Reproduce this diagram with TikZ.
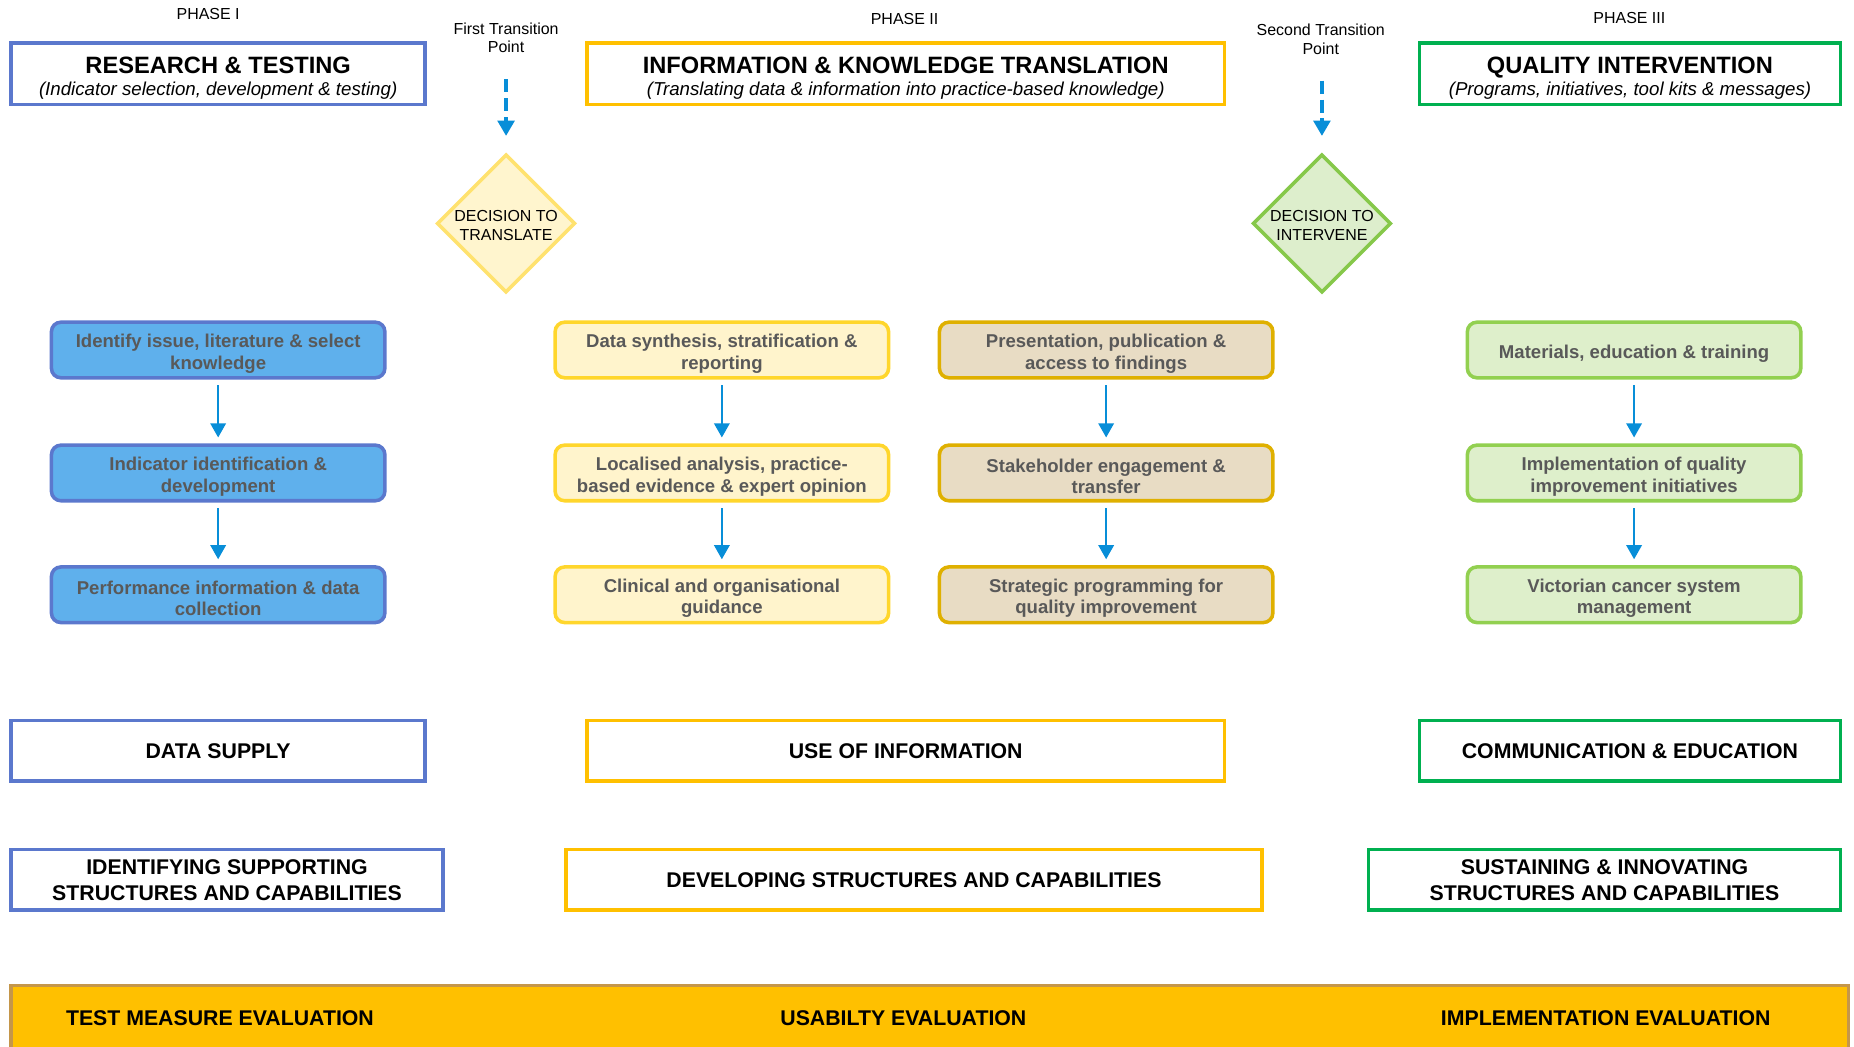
\documentclass[tikz,border=0pt]{standalone}
\usepackage{fontspec}
\setmainfont{Liberation Sans}
\usetikzlibrary{shapes.geometric,arrows.meta}

\newcommand\fsz[2]{\fontsize{#1}{#2}\selectfont}
% invisible strut that lowers a text block inside its box
\newcommand\lowerstrut[1]{\rule{0pt}{#1}}

\definecolor{bluebd}{RGB}{91,120,205}
\definecolor{bluefill}{RGB}{95,176,236}
\definecolor{gold}{RGB}{255,192,0}
\definecolor{qgreen}{RGB}{0,176,80}
\definecolor{ylbd}{RGB}{255,214,44}
\definecolor{ylfill}{RGB}{255,244,204}
\definecolor{tanbd}{RGB}{223,176,0}
\definecolor{tanfill}{RGB}{232,220,196}
\definecolor{grbd}{RGB}{146,208,80}
\definecolor{grfill}{RGB}{222,239,203}
\definecolor{arrowblue}{RGB}{8,142,216}
\definecolor{procgray}{RGB}{89,89,89}
\definecolor{barbd}{RGB}{196,150,74}
\definecolor{dyellowbd}{RGB}{255,226,110}
\definecolor{dyellowfill}{RGB}{255,245,206}
\definecolor{dgreenbd}{RGB}{134,200,74}
\definecolor{dgreenfill}{RGB}{221,238,204}

\tikzset{
  phaselabel/.style={font=\fsz{13.5}{16}, align=center, inner sep=0pt},
  headbox/.style={draw=#1, line width=3pt, minimum height=52pt, align=center,
    inner sep=0pt, font=\fsz{15.8}{21}\itshape},
  proc/.style={rounded corners=8pt, line width=3pt, minimum width=282pt,
    minimum height=47pt, align=center, text=procgray,
    font=\fsz{15.7}{18.2}\bfseries, inner sep=0pt},
  capbox/.style={draw=#1, line width=3pt, minimum height=51pt, align=center,
    font=\fsz{18}{22}\bfseries, inner sep=0pt},
  evaltext/.style={font=\fsz{18}{22}\bfseries, inner sep=0pt},
  flow/.style={arrowblue, line width=2pt, -{Triangle[length=12pt,width=13pt]},
    shorten <=5pt, shorten >=5pt},
  dashflow/.style={arrowblue, line width=4pt, dash pattern=on 11pt off 5pt,
    -{Triangle[length=13pt,width=14pt]}, shorten <=22pt, shorten >=14pt},
  decision/.style={diamond, aspect=1, line width=3pt, minimum width=117pt,
    minimum height=117pt, inner sep=0pt},
  decisiontext/.style={phaselabel, yshift=-2pt},
}

\begin{document}
\begin{tikzpicture}[x=1pt,y=-1pt]
\useasboundingbox[fill=white] (0,0) rectangle (1568,885);

% phase headings
\node[phaselabel] (ph1) at (176,12) {PHASE I};
\node[phaselabel] (ph2) at (765,16) {PHASE II};
\node[phaselabel] (ph3) at (1378,15) {PHASE III};

\node[headbox=bluebd, minimum width=350pt] (rt) at (184.5,62.5)
  {\lowerstrut{20.5pt}{\fsz{20}{24}\bfseries\upshape RESEARCH \& TESTING}\\[-2.5pt](Indicator selection, development \& testing)};
\node[headbox=gold, minimum width=539pt] (ikt) at (766,62.5)
  {\lowerstrut{20.5pt}{\fsz{20}{24}\bfseries\upshape INFORMATION \& KNOWLEDGE TRANSLATION}\\[-2.5pt](Translating data \& information into practice-based knowledge)};
\node[headbox=qgreen, minimum width=356pt] (qi) at (1378.5,62.5)
  {\lowerstrut{20.5pt}{\fsz{20}{24}\bfseries\upshape QUALITY INTERVENTION}\\[-2.5pt](Programs, initiatives, tool kits \& messages)};

% transition points and decisions
\node[phaselabel] (t1) at (428,32) {First Transition\\Point};
\node[phaselabel] (t2) at (1117,33) {Second Transition\\Point};

\node[decision, draw=dyellowbd, fill=dyellowfill,
  label={[decisiontext]center:DECISION TO\\TRANSLATE}] (d1) at (428,189) {};
\node[decision, draw=dgreenbd, fill=dgreenfill,
  label={[decisiontext]center:DECISION TO\\INTERVENE}] (d2) at (1118,189) {};

\draw[dashflow] (t1.south) -- (d1.north);
\draw[dashflow] (t2.south -| d2.north) -- (d2.north);

% phase I process
\node[proc, draw=bluebd, fill=bluefill] (a1) at (184.5,296) {\lowerstrut{17.5pt}Identify issue, literature \& select\\knowledge};
\node[proc, draw=bluebd, fill=bluefill] (a2) at (184.5,400) {\lowerstrut{17.5pt}Indicator identification \&\\development};
\node[proc, draw=bluebd, fill=bluefill] (a3) at (184.5,503) {\lowerstrut{17.5pt}Performance information \& data\\collection};

% phase II process
\node[proc, draw=ylbd, fill=ylfill] (b1) at (610.5,296) {\lowerstrut{17.5pt}Data synthesis, stratification \&\\reporting};
\node[proc, draw=ylbd, fill=ylfill] (b2) at (610.5,400) {\lowerstrut{17.5pt}Localised analysis, practice-\\based evidence \& expert opinion};
\node[proc, draw=ylbd, fill=ylfill] (b3) at (610.5,503) {\lowerstrut{17.5pt}Clinical and organisational\\guidance};

\node[proc, draw=tanbd, fill=tanfill] (c1) at (935.5,296) {\lowerstrut{17.5pt}Presentation, publication \&\\access to findings};
\node[proc, draw=tanbd, fill=tanfill] (c2) at (935.5,400) {\lowerstrut{17.5pt}Stakeholder engagement \&\\transfer};
\node[proc, draw=tanbd, fill=tanfill] (c3) at (935.5,503) {\lowerstrut{17.5pt}Strategic programming for\\quality improvement};

% phase III process
\node[proc, draw=grbd, fill=grfill] (e1) at (1382,296) {\lowerstrut{17.5pt}Materials, education \& training};
\node[proc, draw=grbd, fill=grfill] (e2) at (1382,400) {\lowerstrut{17.5pt}Implementation of quality\\improvement initiatives};
\node[proc, draw=grbd, fill=grfill] (e3) at (1382,503) {\lowerstrut{17.5pt}Victorian cancer system\\management};

\foreach \u/\v in {a1/a2,a2/a3,b1/b2,b2/b3,c1/c2,c2/c3,e1/e2,e2/e3}
  \draw[flow] (\u) -- (\v);

% outcome boxes
\node[capbox=bluebd, minimum width=350pt] (ds) at (184.5,635) {DATA SUPPLY};
\node[capbox=gold, minimum width=539pt] (ui) at (766,635) {USE OF INFORMATION};
\node[capbox=qgreen, minimum width=356pt] (ce) at (1378.5,635) {COMMUNICATION \& EDUCATION};

\node[capbox=bluebd, minimum width=365pt] (is) at (192,744) {IDENTIFYING SUPPORTING\\STRUCTURES AND CAPABILITIES};
\node[capbox=gold, minimum width=589pt] (dv) at (773,744) {DEVELOPING STRUCTURES AND CAPABILITIES};
\node[capbox=qgreen, minimum width=399pt] (si) at (1357,744) {SUSTAINING \& INNOVATING\\STRUCTURES AND CAPABILITIES};

% evaluation band
\node[draw=barbd, fill=gold, line width=3pt, minimum width=1554pt,
  minimum height=66pt, inner sep=0pt] (bar) at (786.5,866.5) {};
\node[evaltext] (ev1) at (186,861) {TEST MEASURE EVALUATION};
\node[evaltext] (ev2) at (764,861) {USABILTY EVALUATION};
\node[evaltext] (ev3) at (1358,861) {IMPLEMENTATION EVALUATION};
\end{tikzpicture}
\end{document}
